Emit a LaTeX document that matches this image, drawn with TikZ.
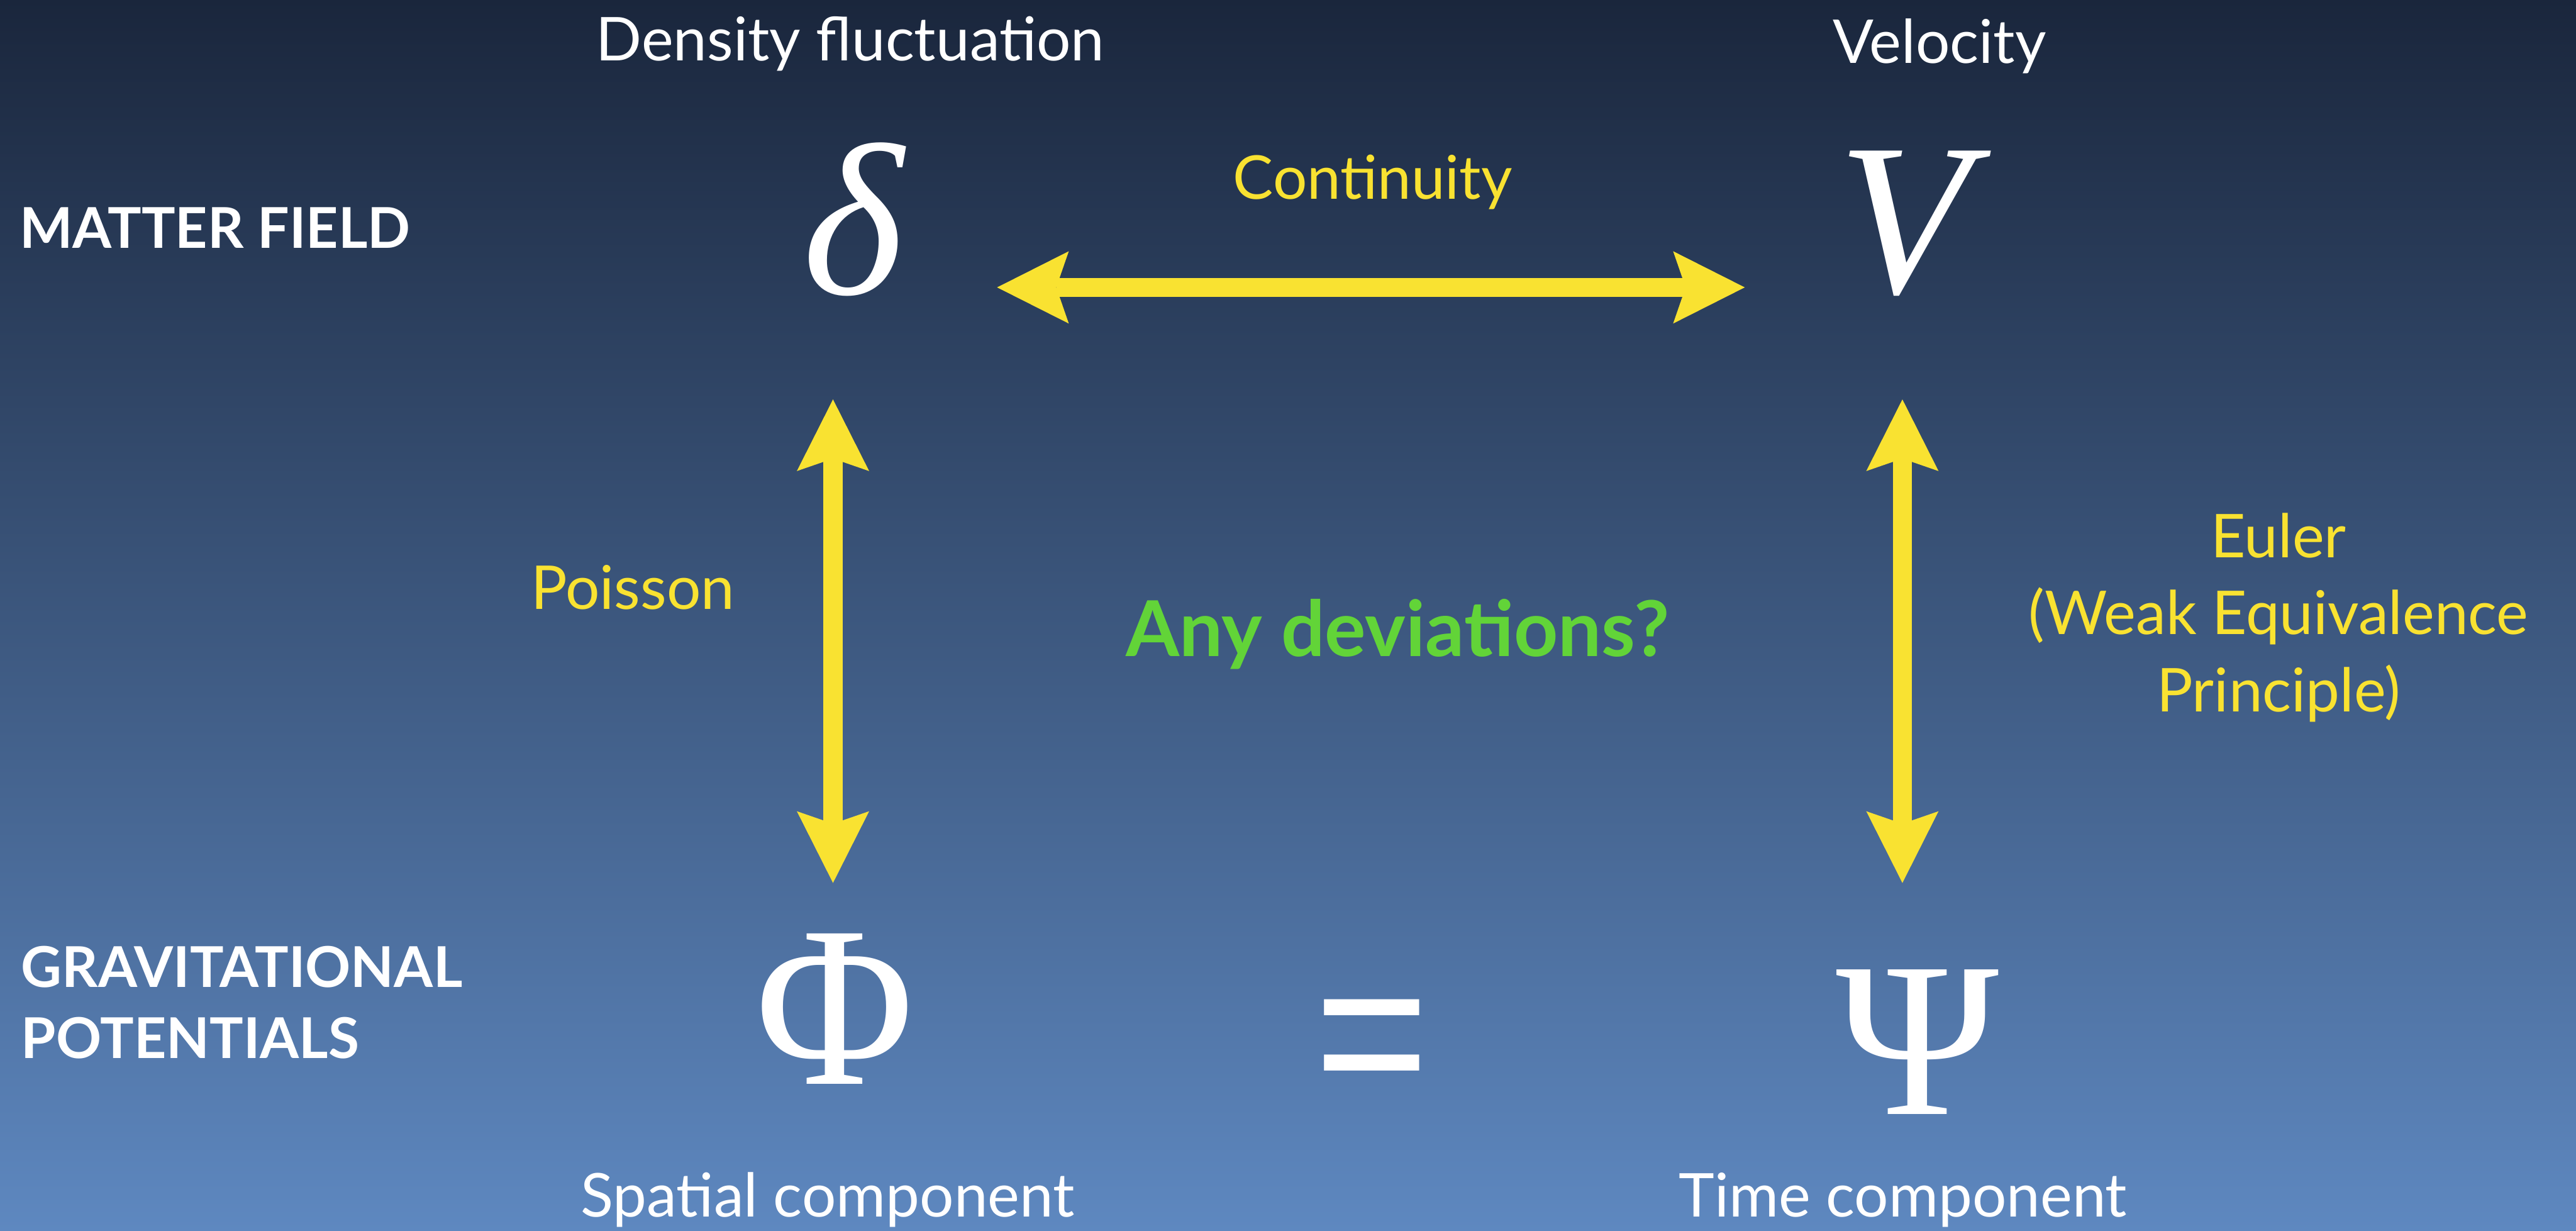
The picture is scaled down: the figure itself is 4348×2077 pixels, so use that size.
\documentclass[tikz,border=0pt]{standalone}
\usepackage{fontspec}
\setmainfont{Lato}
\newfontfamily\symfont{Liberation Serif}
\newfontfamily\eqfont{Liberation Sans}
\usetikzlibrary{arrows.meta}
\definecolor{bgtop}{RGB}{26,38,60}
\definecolor{bgbot}{RGB}{94,136,192}
\definecolor{yel}{RGB}{249,226,49}
\definecolor{grn}{RGB}{98,212,56}
\tikzset{
  lbl/.style={text=white, font=\fontsize{29pt}{35pt}\selectfont, anchor=base},
  rel/.style={text=yel, font=\fontsize{29pt}{37pt}\selectfont, anchor=base},
  rowlbl/.style={text=white, font=\fontsize{27pt}{34.1pt}\selectfont\bfseries, anchor=base west, align=left},
  symb/.style={text=white, anchor=base},
  dblarrow/.style={draw=yel, line width=9.1pt, {Stealth[length=34.4pt, width=34.7pt, inset=6pt, line width=0pt]}-{Stealth[length=34.4pt, width=34.7pt, inset=6pt, line width=0pt]}}
}
\begin{document}
\begin{tikzpicture}[x=0.01cm, y=-0.01cm, every node/.style={inner sep=0pt, outer sep=0pt}]
\useasboundingbox (0,0) rectangle (4348,2077);
\shade[top color=bgtop, bottom color=bgbot] (0,0) rectangle (4348,2077);

% column headers
\node[lbl] (dens) at (1435,102) {Density fluctuation};
\node[lbl] (velo) at (3274,107) {Velocity};

% row labels (base anchor = last line)
\node[rowlbl] (matter) at (33,419) {MATTER FIELD};
\node[rowlbl] (grav) at (36,1786) {GRAVITATIONAL\\POTENTIALS};

% symbols
\node[symb, font=\fontsize{104pt}{110pt}\symfont\itshape] (delta) at (1440,496) {δ};
\node[symb, font=\fontsize{104pt}{110pt}\symfont\itshape] (V) at (3214,494) {V};
\node[symb, font=\fontsize{104pt}{110pt}\symfont, yscale=1.06, transform shape] (Phi) at (1409,1830) {Φ};
\node[symb, font=\fontsize{106pt}{110pt}\symfont] (Psi) at (3237,1880) {Ψ};
\node[symb, font=\fontsize{94pt}{100pt}\eqfont, yscale=1.13, transform shape] (eq) at (2316,1745) {\raisebox{-0.335em}{=}};

% bottom labels
\node[lbl] (spat) at (1397,2053) {Spatial component};
\node[lbl] (time) at (3212,2053) {Time component};

% relation labels
\node[rel] (cont) at (2317,336) {Continuity};
\node[rel] (pois) at (1068,1028) {Poisson};
\node[rel, align=center] (euler) at (3846,1201) {Euler\\(Weak Equivalence\\Principle)};
\node[text=grn, font=\fontsize{37pt}{40pt}\selectfont\bfseries, anchor=base] (dev) at (2359,1108) {Any deviations?};

% arrow ends
\coordinate (hL) at (1683,485);
\coordinate (hR) at (2945,485);
\coordinate (vLt) at (1406,674);
\coordinate (vLb) at (1406,1490);
\coordinate (vRt) at (3211,674);
\coordinate (vRb) at (3211,1490);

\draw[dblarrow] (hL) -- (hR);
\draw[dblarrow] (vLt) -- (vLb);
\draw[dblarrow] (vRt) -- (vRb);
\end{tikzpicture}
\end{document}
